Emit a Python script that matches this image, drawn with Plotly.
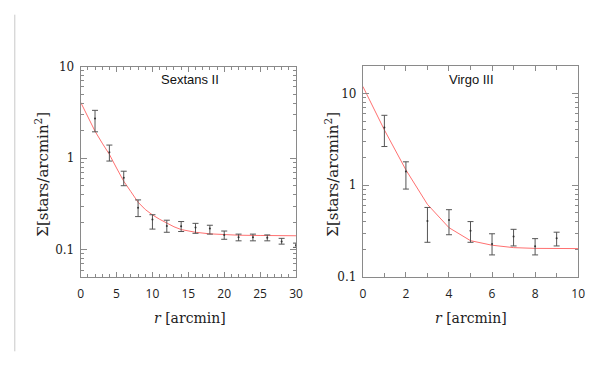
import plotly.graph_objects as go
from plotly.subplots import make_subplots

# Sextans II
sex_r = [2, 4, 6, 8, 10, 12, 14, 16, 18, 20, 22, 24, 26, 28, 30]
sex_sigma = [2.72, 1.16, 0.61, 0.288, 0.214, 0.182, 0.180, 0.175, 0.170, 0.145, 0.137, 0.137, 0.135, 0.123, 0.112]
sex_hi = [3.33, 1.39, 0.72, 0.35, 0.241, 0.21, 0.203, 0.194, 0.185, 0.160, 0.148, 0.148, 0.145, 0.133, 0.118]
sex_lo = [1.94, 0.93, 0.50, 0.23, 0.168, 0.155, 0.158, 0.151, 0.148, 0.130, 0.125, 0.125, 0.125, 0.115, 0.106]
sex_fit_r = [0, 1, 2, 3, 4, 5, 6, 7, 8, 9, 10, 11, 12, 13, 14, 16, 18, 20, 22, 25, 30]
sex_fit = [4.08, 2.85, 1.97, 1.46, 1.10, 0.78, 0.56, 0.43, 0.33, 0.275, 0.24, 0.215, 0.194, 0.178, 0.166, 0.155, 0.149, 0.146, 0.144, 0.143, 0.142]

# Virgo III
vir_r = [1, 2, 3, 4, 5, 6, 7, 8, 9]
vir_sigma = [4.25, 1.41, 0.41, 0.42, 0.32, 0.23, 0.277, 0.217, 0.266]
vir_hi = [5.77, 1.80, 0.574, 0.543, 0.403, 0.297, 0.332, 0.263, 0.309]
vir_lo = [2.64, 0.91, 0.24, 0.29, 0.24, 0.175, 0.219, 0.175, 0.219]
vir_fit_r = [0, 1, 2, 3, 4, 5, 6, 7, 8, 9, 10]
vir_fit = [11.9, 4.0, 1.47, 0.62, 0.346, 0.25, 0.223, 0.21, 0.206, 0.205, 0.205]

ytick_vals = [0.1, 1, 10]
ytick_text = ["0.1", "1", "10"]

fig = make_subplots(rows=1, cols=2)

def add_panel(col, r, s, hi, lo, fr, fv):
    fig.add_trace(go.Scatter(x=fr, y=fv, mode="lines",
                             line=dict(color="#ff7070", width=1),
                             showlegend=False, hoverinfo="skip"), row=1, col=col)
    fig.add_trace(go.Scatter(
        x=r, y=s, mode="markers",
        marker=dict(color="#333333", size=2),
        error_y=dict(type="data", symmetric=False,
                     array=[h - v for h, v in zip(hi, s)],
                     arrayminus=[v - l for v, l in zip(s, lo)],
                     color="#555555", thickness=1, width=3),
        showlegend=False, cliponaxis=False), row=1, col=col)

add_panel(1, sex_r, sex_sigma, sex_hi, sex_lo, sex_fit_r, sex_fit)
add_panel(2, vir_r, vir_sigma, vir_hi, vir_lo, vir_fit_r, vir_fit)

axis_common = dict(showline=True, linecolor="#8a8a8a", linewidth=1, mirror="ticks",
                   ticks="inside", tickcolor="#8a8a8a", showgrid=False, zeroline=False)

fig.update_xaxes(**axis_common)
fig.update_yaxes(**axis_common)

xfont = dict(family="Open Sans", size=12, color="#222")
yfont = dict(family="DejaVu Serif", size=12, color="#222")

fig.update_xaxes(domain=[79/595, 298/595], range=[0, 30], dtick=5, ticklen=5,
                 ticklabelstandoff=5,
                 minor=dict(dtick=1, ticks="inside", ticklen=3, tickcolor="#8a8a8a"),
                 tickfont=xfont, row=1, col=1)
fig.update_xaxes(domain=[366/595, 585/595], range=[0, 10], dtick=2, ticklen=5,
                 ticklabelstandoff=5,
                 minor=dict(dtick=1, ticks="inside", ticklen=4, tickcolor="#8a8a8a"),
                 tickfont=xfont, row=1, col=2)

fig.update_yaxes(type="log", domain=[1-281/366, 1-62/366], range=[-1.301, 1],
                 tickvals=ytick_vals, ticktext=ytick_text, ticklen=6,
                 ticklabelstandoff=3,
                 minor=dict(dtick="D1", ticks="inside", ticklen=3, tickcolor="#8a8a8a"),
                 tickfont=yfont, row=1, col=1)
fig.update_yaxes(type="log", domain=[1-281/366, 1-61/366], range=[-1, 1.301],
                 tickvals=ytick_vals, ticktext=ytick_text, ticklen=6,
                 ticklabelstandoff=3,
                 minor=dict(dtick="D1", ticks="inside", ticklen=3, tickcolor="#8a8a8a"),
                 tickfont=yfont, row=1, col=2)

ann = []
def add_ann(text, xpx, ypx, font, angle=0):
    ann.append(dict(text=text, x=xpx/595, y=1-ypx/366, xref="paper", yref="paper",
                    xanchor="center", yanchor="middle", textangle=angle,
                    showarrow=False, font=font))

title_font = dict(family="Liberation Sans", size=13, color="#111")
ylab_font = dict(family="DejaVu Serif", size=15, color="#222")
xlab_font = dict(family="DejaVu Serif", size=14, color="#222")
add_ann("Sextans II", 190, 75, title_font)
add_ann("Virgo III", 476, 75, title_font)
for xc in [40, 335]:
    add_ann("Σ[stars/arcmin<sup>2</sup>]", xc, 174, ylab_font, -90)
for xc in [190, 476]:
    add_ann("<i>r</i> [arcmin]", xc, 323, xlab_font)

fig.update_layout(width=595, height=366, margin=dict(l=0, r=0, t=0, b=0),
                  plot_bgcolor="white", paper_bgcolor="white", annotations=ann,
                  shapes=[dict(type="line", xref="paper", yref="paper",
                               x0=12/595, x1=12/595, y0=1-8/366, y1=1-358/366,
                               line=dict(color="#c8c8c8", width=1))])

fig.write_html("out.html")
